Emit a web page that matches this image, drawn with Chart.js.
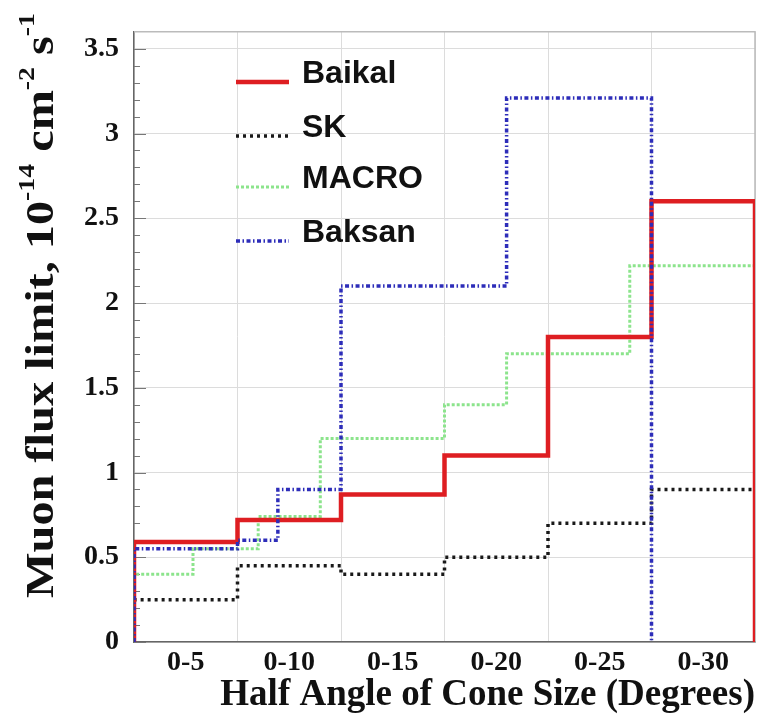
<!DOCTYPE html>
<html>
<head>
<meta charset="utf-8">
<script src="https://cdn.jsdelivr.net/npm/chart.js@4/dist/chart.umd.min.js"></script>
<style>
html, body { margin: 0; padding: 0; background: #fff; }
</style>
</head>
<body>
<canvas id="myChart" width="758" height="718"></canvas>
<script>
// bins along x: 0..6, one per category
var categories = ['0-5', '0-10', '0-15', '0-20', '0-25', '0-30'];
var yTicks = [0, 0.5, 1, 1.5, 2, 2.5, 3, 3.5];

var baikalEdges = [0, 1, 2, 3, 4, 5, 6];
var baikalValues = [0.59, 0.72, 0.87, 1.10, 1.80, 2.60];

var skEdges = [0, 1, 2, 3, 4, 5, 6];
var skValues = [0.25, 0.45, 0.40, 0.50, 0.70, 0.90];

var macroEdges = [0, 0.57, 1.2, 1.8, 3.0, 3.6, 4.79, 6];
var macroValues = [0.40, 0.55, 0.74, 1.20, 1.40, 1.70, 2.22];

var baksanEdges = [0, 1, 1.39, 2, 3.6, 5];
var baksanValues = [0.55, 0.60, 0.90, 2.10, 3.21];

// turn edges + values into points for a stepped line (closed down to 0)
function histPoints(edges, values) {
    var pts = [{x: edges[0], y: 0}];
    values.forEach(function(v, i) {
        pts.push({x: edges[i], y: v});
    });
    var last = edges[edges.length - 1];
    pts.push({x: last, y: values[values.length - 1]});
    pts.push({x: last, y: 0});
    return pts;
}

const serif = '"Liberation Serif", "Times New Roman", serif';

const styles = {
    "Baikal": {color: 'rgb(222,30,34)', width: 4.5, dash: []},
    "SK": {color: 'rgb(25,25,25)', width: 3.5, dash: [3, 4]},
    "MACRO": {color: 'rgb(140,228,140)', width: 3, dash: [3, 2]},
    "Baksan": {color: 'rgb(45,45,185)', width: 3.5, dash: [4, 2.5, 1.5, 2.5]}
};

const frameAndTicks = {
    id: 'frameAndTicks',
    beforeDatasetsDraw(chart) {
        const ctx = chart.ctx;
        const a = chart.chartArea;
        const y = chart.scales.y;
        ctx.save();
        ctx.strokeStyle = '#bbb';
        ctx.lineWidth = 1.5;
        ctx.beginPath();
        ctx.moveTo(a.left, a.top);
        ctx.lineTo(a.right, a.top);
        ctx.lineTo(a.right, a.bottom);
        ctx.stroke();
        // minor / major ticks inside the frame
        ctx.strokeStyle = '#777';
        ctx.lineWidth = 1;
        for (let i = 0; i <= 35; i++) {
            const v = i / 10;
            const py = Math.round(y.getPixelForValue(v)) + 0.5;
            const len = (i % 5 === 0) ? 12 : 6;
            ctx.beginPath();
            ctx.moveTo(a.left, py);
            ctx.lineTo(a.left + len, py);
            ctx.stroke();
        }
        ctx.restore();
    },
    afterDraw(chart) {
        const ctx = chart.ctx;
        ctx.save();
        // legend
        const names = ["Baikal", "SK", "MACRO", "Baksan"];
        const rows = [83, 137, 188, 242];
        names.forEach(function(n, i) {
            const s = styles[n];
            ctx.strokeStyle = s.color;
            ctx.lineWidth = s.width;
            ctx.setLineDash(s.dash);
            ctx.beginPath();
            ctx.moveTo(236, rows[i] - 1);
            ctx.lineTo(289, rows[i] - 1);
            ctx.stroke();
            ctx.setLineDash([]);
            ctx.fillStyle = '#111';
            ctx.font = 'bold 32px "Liberation Sans", Arial, sans-serif';
            ctx.textBaseline = 'alphabetic';
            ctx.fillText(n, 302, rows[i]);
        });

        // y title with superscripts
        const parts = [
            ["Muon flux limit, 10", false], ["-14", true], [" cm", false],
            ["-2", true], [" s", false], ["-1", true]
        ];
        const mainFont = 'bold 40px ' + serif;
        const supFont = 'bold 23px ' + serif;
        let total = 0;
        parts.forEach(function(p) {
            ctx.font = p[1] ? supFont : mainFont;
            total += ctx.measureText(p[0]).width;
        });
        const target = 585;
        ctx.translate(53, 598);
        ctx.rotate(-Math.PI / 2);
        ctx.scale(target / total, 1);
        ctx.fillStyle = '#111';
        let x = 0;
        parts.forEach(function(p) {
            ctx.font = p[1] ? supFont : mainFont;
            ctx.fillText(p[0], x, p[1] ? -19 : 0);
            x += ctx.measureText(p[0]).width;
        });
        ctx.restore();
    }
};

function makeSet(name, edges, values, order) {
    const s = styles[name];
    return {
        label: name,
        data: histPoints(edges, values),
        borderColor: s.color,
        backgroundColor: s.color,
        borderWidth: s.width,
        borderDash: s.dash,
        stepped: 'before',
        pointRadius: 0,
        fill: false,
        order: order
    };
}

const config = {
    type: 'line',
    data: {
        datasets: [
            makeSet("Baksan", baksanEdges, baksanValues, 0),
            makeSet("Baikal", baikalEdges, baikalValues, 1),
            makeSet("SK", skEdges, skValues, 2),
            makeSet("MACRO", macroEdges, macroValues, 3)
        ]
    },
    options: {
        responsive: false,
        animation: false,
        devicePixelRatio: 1,
        layout: {padding: {top: 14, right: 3, left: 0, bottom: 0}},
        plugins: {
            legend: {display: false},
            tooltip: {enabled: false}
        },
        scales: {
            x: {
                type: 'linear',
                min: 0,
                max: 6,
                afterBuildTicks: function(scale) {
                    scale.ticks = categories.map(function(c, i) { return {value: i + 0.5}; });
                },
                afterFit: function(scale) { scale.height = 76; },
                ticks: {
                    callback: function(v, i) { return categories[i]; },
                    font: {family: serif, size: 28, weight: 'bold'},
                    color: '#111',
                    padding: 4,
                    maxRotation: 0,
                    autoSkip: false
                },
                grid: {offset: true, color: '#dcdcdc', lineWidth: 1, drawTicks: false},
                border: {color: '#666', width: 1.5},
                title: {
                    display: true,
                    text: 'Half Angle of Cone Size (Degrees)',
                    align: 'end',
                    font: {family: serif, size: 37, weight: 'bold', lineHeight: 1},
                    color: '#111',
                    padding: {top: 0, bottom: 4}
                }
            },
            y: {
                type: 'linear',
                min: 0,
                max: 3.6,
                afterBuildTicks: function(scale) {
                    scale.ticks = yTicks.map(function(v) { return {value: v}; });
                },
                afterFit: function(scale) { scale.width = 134; },
                ticks: {
                    callback: function(v) { return String(v); },
                    font: {family: serif, size: 28, weight: 'bold'},
                    color: '#111',
                    padding: 15
                },
                grid: {color: '#dcdcdc', lineWidth: 1, drawTicks: false},
                border: {color: '#666', width: 1.5}
            }
        }
    },
    plugins: [frameAndTicks]
};

var myChart = new Chart(document.getElementById('myChart'), config);
</script>
</body>
</html>
